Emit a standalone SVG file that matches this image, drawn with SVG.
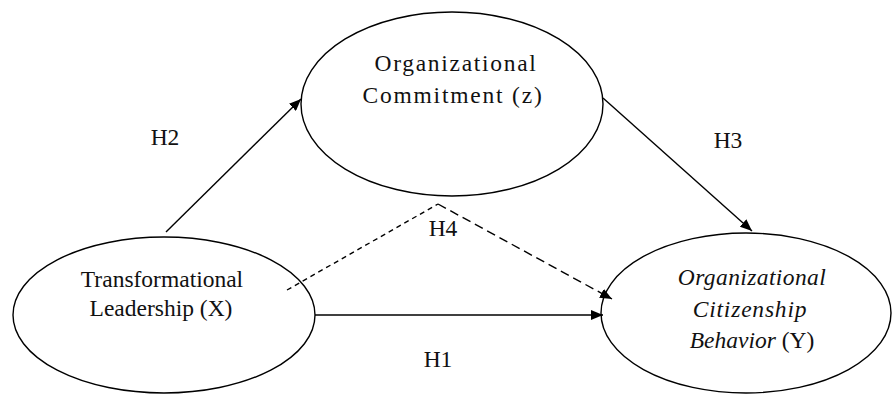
<svg xmlns="http://www.w3.org/2000/svg" width="893" height="394" viewBox="0 0 893 394">
<style>
.node ellipse{fill:#fff;stroke:#000;stroke-width:1.4}
text{font-family:"Liberation Serif","Times New Roman",serif;font-size:23.5px;fill:#111;text-anchor:middle}
.it{font-style:italic}
.conn line,.conn path{stroke:#000;stroke-width:1.4;fill:none}
</style>
<defs>
<marker id="ah" viewBox="0 0 12 10" refX="12" refY="5" markerWidth="12" markerHeight="10" markerUnits="userSpaceOnUse" orient="auto">
<path d="M0,0 L12,5 L0,10 Z" fill="#000"/>
</marker>
</defs>
<g id="n-commitment" class="node">
<ellipse cx="452" cy="104" rx="151" ry="92"/>
<text x="456" y="71" letter-spacing="1.7">Organizational</text>
<text x="453" y="103" letter-spacing="1.8">Commitment (z)</text>
</g>
<g id="n-leadership" class="node">
<ellipse cx="164" cy="315" rx="151" ry="78"/>
<text x="162" y="287">Transformational</text>
<text x="161" y="316">Leadership (X)</text>
</g>
<g id="n-ocb" class="node">
<ellipse cx="746" cy="313" rx="145" ry="80"/>
<text x="752" y="285" class="it" letter-spacing="0.4">Organizational</text>
<text x="750" y="317" class="it" letter-spacing="0.8">Citizenship</text>
<text x="752" y="348"><tspan class="it">Behavior</tspan> (Y)</text>
</g>
<g id="connectors" class="conn">
<line x1="166" y1="232" x2="301" y2="99" marker-end="url(#ah)"/>
<line x1="603" y1="98" x2="752" y2="231" marker-end="url(#ah)"/>
<line x1="315" y1="315" x2="603" y2="315" marker-end="url(#ah)"/>
<line x1="287" y1="290" x2="438" y2="204" stroke-dasharray="5 4"/>
<line x1="438" y1="204" x2="612" y2="299" stroke-dasharray="9 5" marker-end="url(#ah)"/>
</g>
<g id="labels">
<text x="165" y="145">H2</text>
<text x="728" y="148">H3</text>
<text x="443" y="236">H4</text>
<text x="438" y="367">H1</text>
</g>
</svg>
